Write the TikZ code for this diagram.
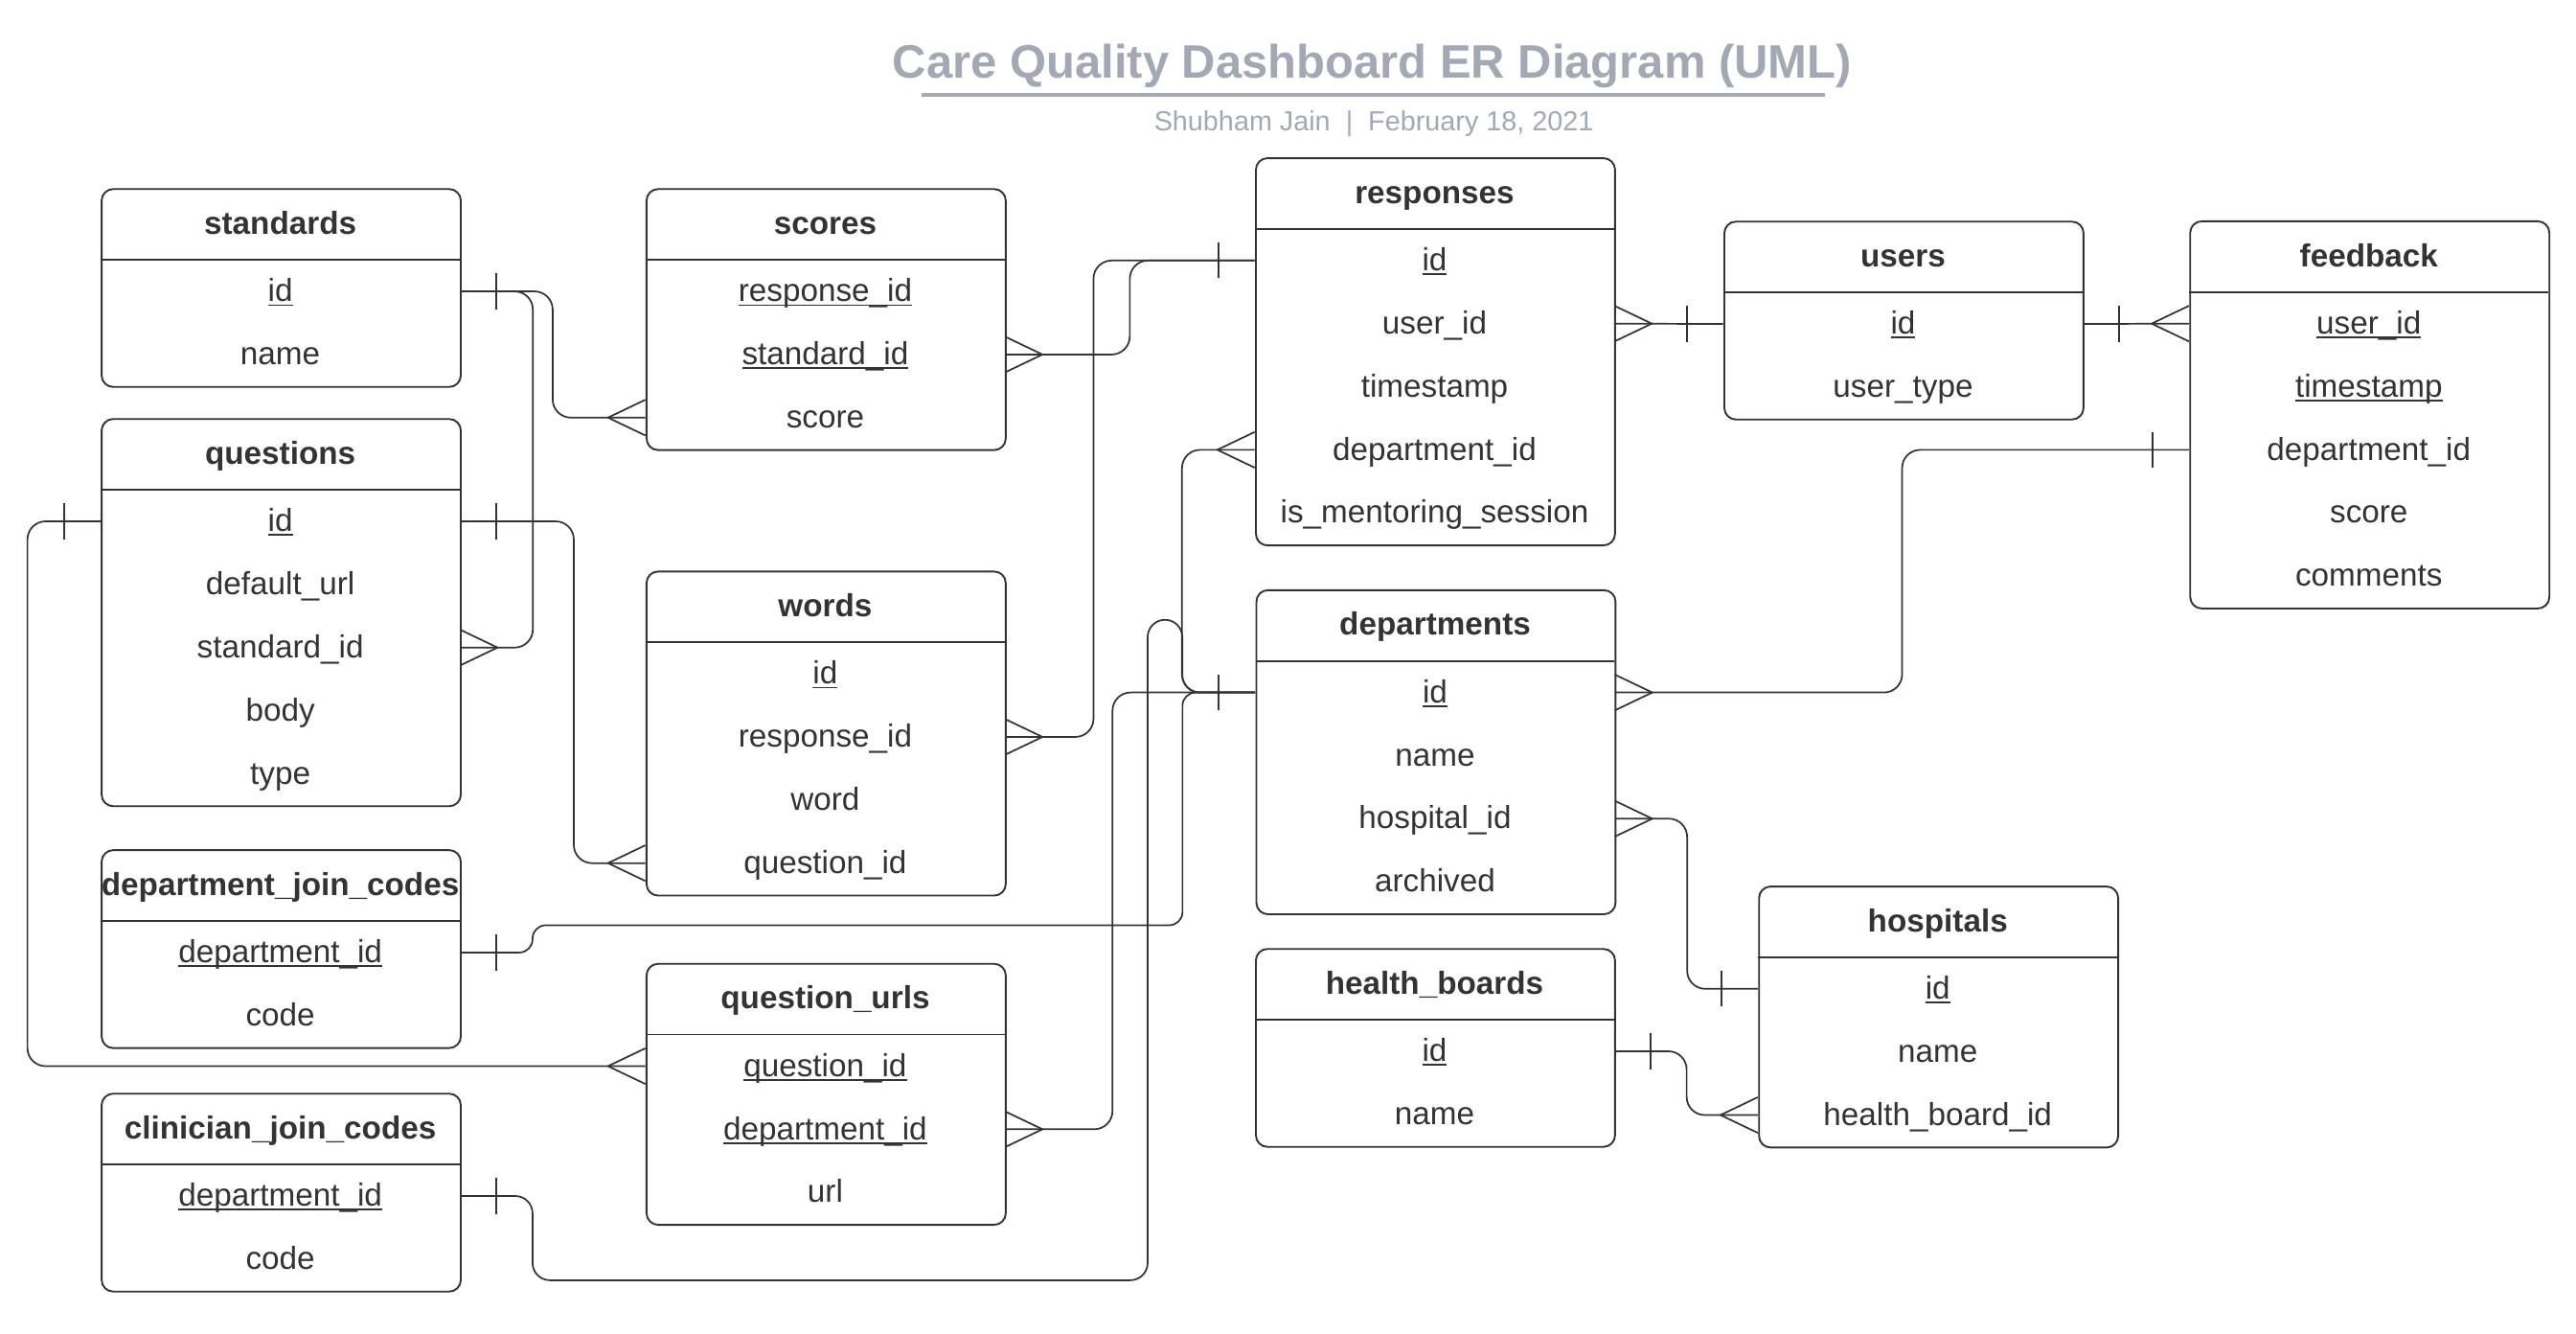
\documentclass[tikz,border=0pt]{standalone}
\usepackage{fontspec}
\setmainfont{Liberation Sans}
\usetikzlibrary{calc}

\definecolor{ink}{HTML}{333333}
\definecolor{titlegray}{HTML}{A3A8B2}

\newcommand{\keyfield}[1]{\setbox0\hbox{#1}\rlap{\rule[-2.7pt]{\wd0}{1.1pt}}\box0}

\tikzset{
  tablebox/.style={draw=ink, line width=1.1pt, rounded corners=7pt, inner sep=0pt, minimum width=217.5pt},
  field/.style={inner sep=0pt, minimum width=217.5pt, text height=15pt, text depth=2.6pt, text=ink, font=\fontsize{19.3}{23}\selectfont},
  head/.style={field, font=\fontsize{19.3}{23}\selectfont\bfseries},
  conn/.style={draw=ink, line width=1pt, rounded corners=11pt},
  pics/crow/.style={code={\draw[ink, line width=1pt] (0,-10.8) -- (22.6,0) -- (0,10.8);}},
  pics/bar/.style={code={\draw[ink, line width=1pt] (22,-10.8) -- (22,10.8);}}
}

\begin{document}
\begin{tikzpicture}[x=1pt, y=-1pt]

   \path[fill=white, use as bounding box] (0,0) rectangle (1560,807);

   \node [anchor=base, text=titlegray, font=\fontsize{28.4}{34}\selectfont\bfseries]
      (title) at (831,47) {Care Quality Dashboard ER Diagram (UML)};
   \draw [titlegray, line width=2pt] (558,57.4) -- (1105,57.4);
   \node [anchor=base, text=titlegray, font=\fontsize{16.7}{20}\selectfont]
      (byline) at (832,79.2) {Shubham Jain\ \ |\ \ February 18, 2021};

   % tables
   \foreach \n/\x/\y/\m/\t/\rows in {
       std/61/113.9/2/standards/{\keyfield{id},name},
       sco/391/113.9/3/scores/{\keyfield{response\_id},\keyfield{standard\_id},score},
       que/61/253.1/5/questions/{\keyfield{id},default\_url,standard\_id,body,type},
       wor/391/345.4/4/words/{\keyfield{id},response\_id,word,question\_id},
       djc/61/514.1/2/department\_join\_codes/{\keyfield{department\_id},code},
       qur/391/582.9/3/question\_urls/{\keyfield{question\_id},\keyfield{department\_id},url},
       cjc/61/661.5/2/clinician\_join\_codes/{\keyfield{department\_id},code},
       res/760/95.2/5/responses/{\keyfield{id},user\_id,timestamp,department\_id,is\_mentoring\_session},
       dep/760.3/356.7/4/departments/{\keyfield{id},name,hospital\_id,archived},
       hb/760/573.9/2/health\_boards/{\keyfield{id},name},
       usr/1043.7/133.6/2/users/{\keyfield{id},user\_type},
       fb/1325.8/133.4/5/feedback/{\keyfield{user\_id},\keyfield{timestamp},department\_id,score,comments},
       hos/1064.7/536.1/3/hospitals/{\keyfield{id},name,health\_board\_id}}
   {
     \node [tablebox, anchor=north west, minimum height={43.4pt+\m*38.2pt}] (\n) at (\x,\y) {};
     \draw [ink, line width=1pt] (\x,\y+43.4) -- (\x+217.5,\y+43.4);
     \node [head] (\n-t) at (\x+108.75,\y+21.7) {\t};
     \foreach \r [count=\k] in \rows
       \node [field] (\n-\k) at (\x+108.75,\y+62.5+\k*38.2-38.2) {\r};
   }

   % relationships
   \draw [conn] (std-1.east) -- ++(56,0) |- (sco-3.west);
   \draw [conn] (std-1.east) -- ++(44,0) |- (que-3.east);
   \draw [conn] (sco-2.east) -- ++(75.5,0) |- (res-1.west);
   \draw [conn] (wor-2.east) -- ++(53.5,0) |- (res-1.west);
   \draw [conn] (que-1.east) -- ++(68.8,0) |- (wor-4.west);
   \draw [conn] (que-1.west) -- ++(-44.2,0) |- (qur-1.west);
   \draw [conn, rounded corners=8pt] (djc-1.east) -- ++(43.8,0) -- ++(0,-16.5)
      -| ($(dep-1.west)+(-44,0)$) -- (dep-1.west);
   \draw [conn] (res-4.west) -- ++(-44,0) |- (dep-1.west);
   \draw [conn] (qur-2.east) -- ++(65,0) |- (dep-1.west);
   \draw [conn, rounded corners=10.5pt] (cjc-1.east) -- ++(43.8,0) |- (695,775)
      |- (716,375.2) |- (dep-1.west);
   \draw [conn] (dep-1.east) -- ++(173.9,0) |- (fb-3.west);
   \draw [conn] (dep-3.east) -- ++(43.7,0) |- (hos-1.west);
   \draw [conn] (hb-1.east) -- ++(43.7,0) |- (hos-3.west);
   \foreach \i/\j in {res-2.east/usr-1.west, usr-1.east/fb-1.west}
     \draw [conn] (\i) -- (\j);

   % many ends
   \foreach \a/\r in {sco-3.west/180, que-3.east/0, sco-2.east/0, wor-2.east/0, wor-4.west/180,
       qur-1.west/180, res-4.west/180, qur-2.east/0, res-2.east/0, fb-1.west/180,
       dep-1.east/0, dep-3.east/0, hos-3.west/180}
     \pic [rotate=\r] at (\a) {crow};

   % one ends
   \foreach \a/\r in {std-1.east/0, res-1.west/180, que-1.east/0, que-1.west/180, djc-1.east/0,
       dep-1.west/180, cjc-1.east/0, usr-1.west/180, usr-1.east/0, fb-3.west/180,
       hos-1.west/180, hb-1.east/0}
     \pic [rotate=\r] at (\a) {bar};
\end{tikzpicture}
\end{document}
